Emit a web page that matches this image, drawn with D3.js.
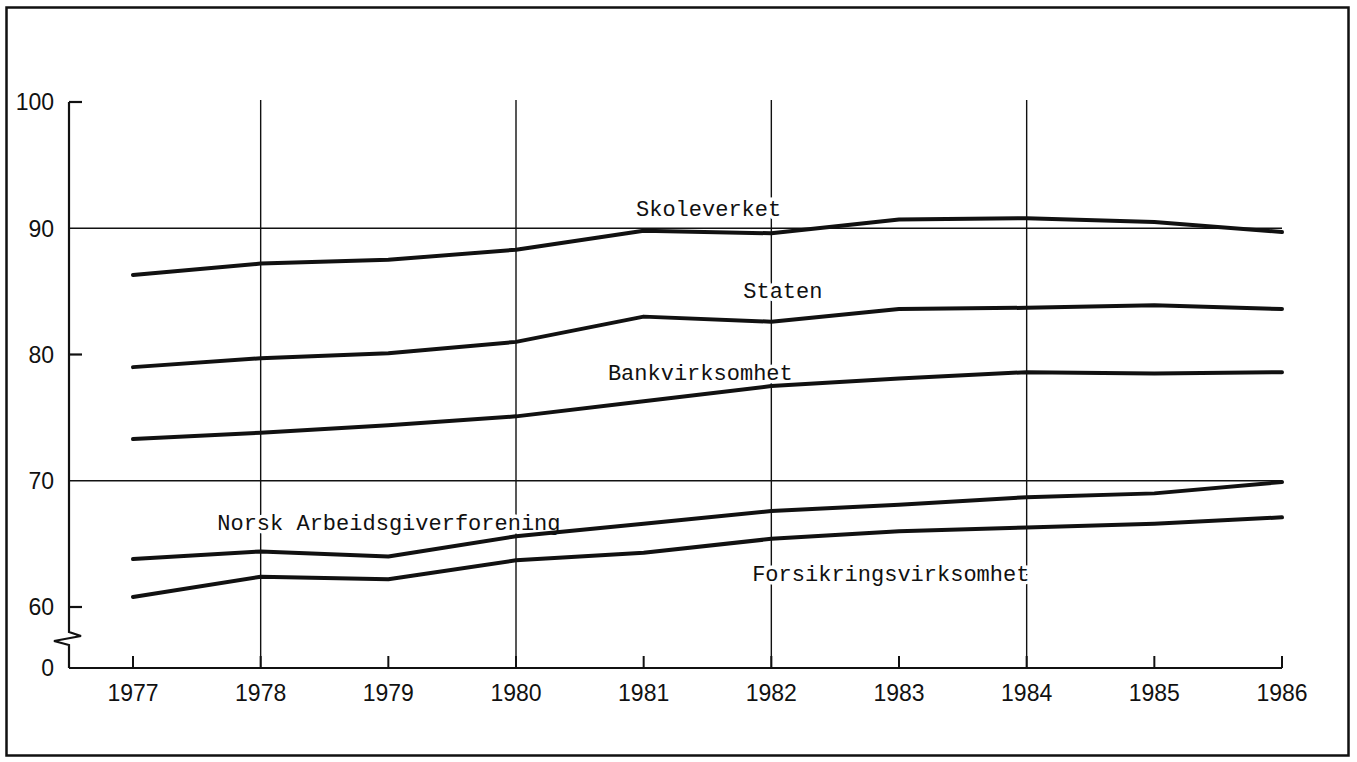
<!DOCTYPE html>
<html>
<head>
<meta charset="utf-8">
<script src="https://cdn.jsdelivr.net/npm/d3@7"></script>
<style>
  html, body { margin: 0; padding: 0; background: #fff; }
  svg { display: block; }
</style>
</head>
<body>
<svg id="chart" width="1357" height="762"></svg>
<script>
// ---- data ----
const years = [1977, 1978, 1979, 1980, 1981, 1982, 1983, 1984, 1985, 1986];
const skoleverket = [86.3, 87.2, 87.5, 88.3, 89.8, 89.6, 90.7, 90.8, 90.5, 89.7];
const staten = [79.0, 79.7, 80.1, 81.0, 83.0, 82.6, 83.6, 83.7, 83.9, 83.6];
const bankvirksomhet = [73.3, 73.8, 74.4, 75.1, 76.3, 77.5, 78.1, 78.6, 78.5, 78.6];
const norskArbeidsgiverforening = [63.8, 64.4, 64.0, 65.6, 66.6, 67.6, 68.1, 68.7, 69.0, 69.9];
const forsikringsvirksomhet = [60.8, 62.4, 62.2, 63.7, 64.3, 65.4, 66.0, 66.3, 66.6, 67.1];
const yTickValues = [0, 60, 70, 80, 90, 100];
const yGridValues = [70, 90];
const yShortTicks = [60, 80, 100];
const xGridYears = [1978, 1980, 1982, 1984];
const seriesNames = ["Skoleverket", "Staten", "Bankvirksomhet", "Norsk Arbeidsgiverforening", "Forsikringsvirksomhet"];
const seriesValues = [skoleverket, staten, bankvirksomhet, norskArbeidsgiverforening, forsikringsvirksomhet];
// label anchor: [year position, value position]
const labelYears = [1980.94, 1981.78, 1980.72, 1977.66, 1981.85];
const labelValues = [91.0, 84.5, 78.0, 66.1, 62.05];

// ---- layout ----
const svg = d3.select("#chart");
const x = d3.scaleLinear().domain([1977, 1986]).range([133, 1282]);
// broken axis: 0 sits just below 60
const y = d3.scaleLinear().domain([0, 60, 100]).range([668, 607, 102]);
const axisX = 69;

// frame
svg.append("rect")
  .attr("x", 6.5).attr("y", 7.5).attr("width", 1342).attr("height", 748)
  .attr("fill", "none").attr("stroke", "#111").attr("stroke-width", 2.5);

const thin = { stroke: "#111", width: 1.4 };

// vertical grid lines
svg.append("g").selectAll("line").data(xGridYears).join("line")
  .attr("x1", d => x(d)).attr("x2", d => x(d))
  .attr("y1", y(100) - 2).attr("y2", y(0))
  .attr("stroke", thin.stroke).attr("stroke-width", thin.width);

// horizontal grid lines
svg.append("g").selectAll("line").data(yGridValues).join("line")
  .attr("x1", axisX).attr("x2", x(1986))
  .attr("y1", d => y(d)).attr("y2", d => y(d))
  .attr("stroke", thin.stroke).attr("stroke-width", thin.width);

// short y ticks
svg.append("g").selectAll("line").data(yShortTicks).join("line")
  .attr("x1", axisX).attr("x2", axisX + 13)
  .attr("y1", d => y(d)).attr("y2", d => y(d))
  .attr("stroke", "#111").attr("stroke-width", 2.2);

// y axis with break
const breakTop = y(60) + 25;
svg.append("path")
  .attr("d", `M${axisX},${y(100)} L${axisX},${breakTop} L${axisX + 12},${breakTop + 4} L${axisX - 15},${breakTop + 9} L${axisX},${breakTop + 13} L${axisX},${y(0)}`)
  .attr("fill", "none").attr("stroke", "#111").attr("stroke-width", 2.2)
  .attr("stroke-linejoin", "miter");

// x axis
svg.append("line")
  .attr("x1", axisX).attr("x2", x(1986))
  .attr("y1", y(0)).attr("y2", y(0))
  .attr("stroke", "#111").attr("stroke-width", 2.2);
svg.append("g").selectAll("line").data(years).join("line")
  .attr("x1", d => x(d)).attr("x2", d => x(d))
  .attr("y1", y(0)).attr("y2", y(0) - 12)
  .attr("stroke", "#111").attr("stroke-width", 2);

// tick labels
const tickFont = "'Liberation Sans', Arial, sans-serif";
svg.append("g").selectAll("text").data(yTickValues).join("text")
  .attr("x", 54).attr("y", d => y(d))
  .attr("dy", "0.36em")
  .attr("text-anchor", "end")
  .attr("font-family", tickFont).attr("font-size", 23).attr("fill", "#111")
  .text(d => d);
svg.append("g").selectAll("text").data(years).join("text")
  .attr("x", d => x(d)).attr("y", 701)
  .attr("text-anchor", "middle")
  .attr("font-family", tickFont).attr("font-size", 23).attr("fill", "#111")
  .text(d => d);

// series labels (white halo breaks grid lines like the original)
svg.append("g").selectAll("text").data(seriesNames).join("text")
  .attr("x", (d, i) => x(labelYears[i]))
  .attr("y", (d, i) => y(labelValues[i]))
  .attr("font-family", "'Courier New', 'Liberation Mono', monospace")
  .attr("font-size", 22).attr("fill", "#111")
  .attr("stroke", "#fff").attr("stroke-width", 7).attr("paint-order", "stroke")
  .text(d => d);

// series lines (drawn over labels' halos)
const line = d3.line().x((d, i) => x(years[i])).y(d => y(d));
svg.append("g").selectAll("path").data(seriesValues).join("path")
  .attr("d", d => line(d))
  .attr("fill", "none").attr("stroke", "#111").attr("stroke-width", 4)
  .attr("stroke-linecap", "round").attr("stroke-linejoin", "round");
</script>
</body>
</html>
